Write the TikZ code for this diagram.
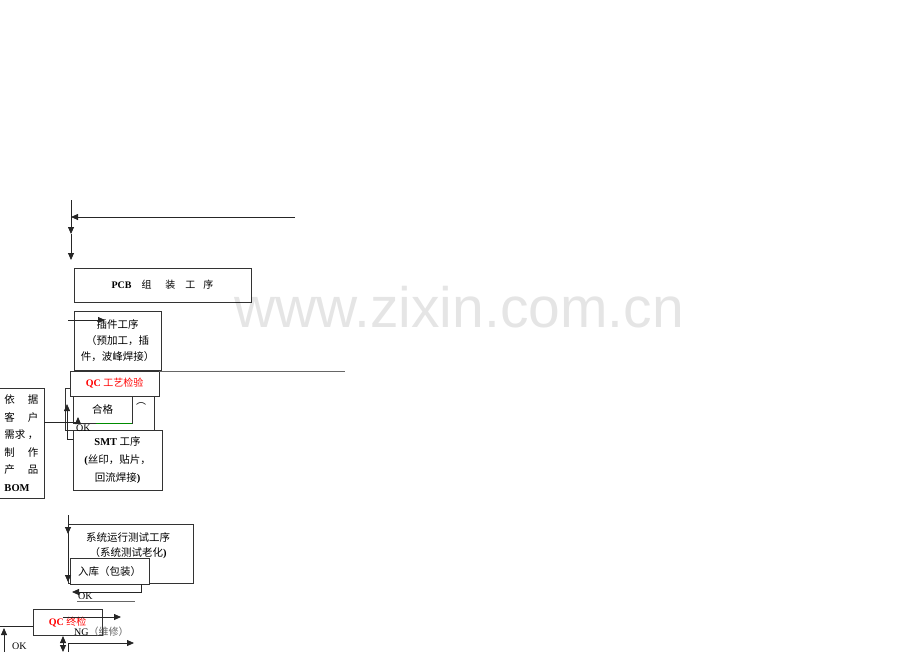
\documentclass[tikz,border=0pt]{standalone}
\usepackage{fontspec}
\setmainfont{Liberation Serif}
\newfontfamily\cjk{Noto Sans CJK SC}
\newfontfamily\wmfont{Liberation Sans}
\usetikzlibrary{arrows.meta,
                positioning}

\begin{document}
\begin{tikzpicture}[x=1pt, y=-1pt,
    box/.style={draw=black!80, fill=white, line width=0.8pt, anchor=north west,
                inner sep=0pt, outer sep=0pt, align=center,
                font=\fontsize{10}{16}\selectfont},
    lbl/.style={inner sep=0pt, font=\fontsize{10}{12}\selectfont},
    link/.style={draw=black!85, line width=0.8pt},
    arr/.style={link, -{Triangle[length=7pt, width=6pt]}},
    dblarr/.style={link, {Triangle[length=7pt, width=6pt]}-{Triangle[length=7pt, width=6pt]}}
]
    \useasboundingbox (0,0) rectangle (920,651);

    % top feed
    \coordinate (feedin) at (295,217);
    \coordinate (feedout) at (71,217);
    \draw[arr] (feedin) -- (feedout);
    \coordinate (dtop) at (71,200);
    \coordinate (dmid) at (71,234);
    \coordinate (dbot) at (71,260);
    \draw[arr] (dtop) -- (dmid);
    \draw[arr] (dmid) -- (dbot);

    \node[box, minimum width=177pt, minimum height=34pt] (pcb) at (74,268)
        {{\bfseries PCB}\hspace{10pt}{\cjk 组\hspace{14pt}装\hspace{10pt}工\hspace{8pt}序}};

    % boxes in the middle
    \node[box, minimum width=89pt, minimum height=42pt] (okbox) at (65,388) {};
    \node[lbl, font=\cjk\fontsize{10}{12}\selectfont] (okparen) at (141,404) {︵};

    \node[box, minimum width=87pt, minimum height=59pt, font=\cjk\fontsize{10.5}{16}\selectfont] (insert) at (74,311)
        {插件工序\\（预加工，插\\件，波峰焊接）};
    \node[box, minimum width=89pt, minimum height=25pt, text=red] (qcproc) at (70,371)
        {{\bfseries QC} {\cjk 工艺检验}};
    \node[box, minimum width=59pt, minimum height=27pt, font=\cjk\fontsize{10.5}{12}\selectfont] (pass) at (73,396) {合格};
    \coordinate (gstart) at (96,423);
    \draw[draw=green!55!black, line width=0.8pt] (gstart) -- (pass.south east);

    \node[box, minimum width=89pt, minimum height=60pt, font=\cjk\fontsize{10.5}{18}\selectfont] (smt) at (73,430)
        {{\rmfamily\bfseries SMT} 工序\\{\rmfamily\bfseries (}丝印，贴片，\\回流焊接{\rmfamily\bfseries )}};

    \node[box, minimum width=45pt, minimum height=110pt, align=left, text width=34pt,
          font=\cjk\fontsize{10.5}{17.5}\selectfont] (bom) at (-1,388)
        {依\hfill 据\\客\hfill 户\\需求\hfill ，\\制\hfill 作\\产\hfill 品\\{\rmfamily\bfseries BOM}};

    \coordinate (ins1) at (68,320);
    \coordinate (ins2) at (105,320);
    \draw[arr] (ins1) -- (ins2);
    \coordinate (qcline) at (345,371);
    \draw[link, draw=black!60] (qcproc.north east) -- (qcline);

    \coordinate (bomout) at (44,422);
    \coordinate (okjoin) at (78,422);
    \coordinate (oktip) at (78,417);
    \draw[link] (bomout) -- (okjoin);
    \draw[arr] (okjoin) -- (oktip);
    \node[lbl, anchor=base west] (ok1) at (76,431) {OK};
    \coordinate (smtleft) at (73,439);
    \coordinate (upend) at (67,404);
    \draw[arr] (smtleft) -| (upend);

    % lower part
    \node[box, minimum width=125pt, minimum height=59pt] (systest) at (68,524) {};
    \node[lbl, font=\cjk\fontsize{10.5}{15}\selectfont, align=center] (systxt) at (128,546)
        {系统运行测试工序\\（系统测试老化{\rmfamily\bfseries )}};
    \node[box, minimum width=79pt, minimum height=26pt, font=\cjk\fontsize{10.5}{12}\selectfont] (store) at (70,558)
        {入库（包装）};
    \coordinate (vt1) at (68,515);
    \coordinate (vt2) at (68,534);
    \coordinate (vt3) at (68,582);
    \draw[arr] (vt1) -- (vt2);
    \draw[arr] (vt2) -- (vt3);

    \coordinate (storecorner) at (141,584);
    \coordinate (okret) at (72,592);
    \draw[arr] (storecorner) |- (okret);
    \node[lbl, anchor=base west] (ok2) at (78,599.5) {OK};
    \coordinate (ul1) at (77,601);
    \coordinate (ul2) at (135,601);
    \draw[link, draw=black!60] (ul1) -- (ul2);

    \node[box, minimum width=69pt, minimum height=26pt, text=red] (qcfinal) at (33,609)
        {{\bfseries QC} {\cjk 终检}};
    \coordinate (ng1) at (63,617);
    \coordinate (ng2) at (121,617);
    \draw[arr] (ng1) -- (ng2);
    \node[lbl, anchor=base west] (ng) at (74,635) {NG{\cjk\color{black!60}（维修）}};

    \coordinate (qcleft) at (33,626);
    \coordinate (fl) at (0,626);
    \draw[link] (qcleft) -- (fl);
    \coordinate (up1) at (4,652);
    \coordinate (up2) at (4,628);
    \draw[arr] (up1) -- (up2);
    \node[lbl, anchor=base west] (ok3) at (12,649) {OK};

    \coordinate (da1) at (63,636);
    \coordinate (da2) at (63,652);
    \draw[dblarr] (da1) -- (da2);
    \coordinate (pb1) at (68,652);
    \coordinate (pb2) at (68,643);
    \coordinate (pb3) at (134,643);
    \draw[arr] (pb1) -- (pb2) -- (pb3);

    % watermark
    \node[font=\wmfont\fontsize{57}{60}\selectfont, text=black, opacity=0.1,
          anchor=base, inner sep=0pt] (wm) at (459,327) {www.zixin.com.cn};
\end{tikzpicture}
\end{document}
